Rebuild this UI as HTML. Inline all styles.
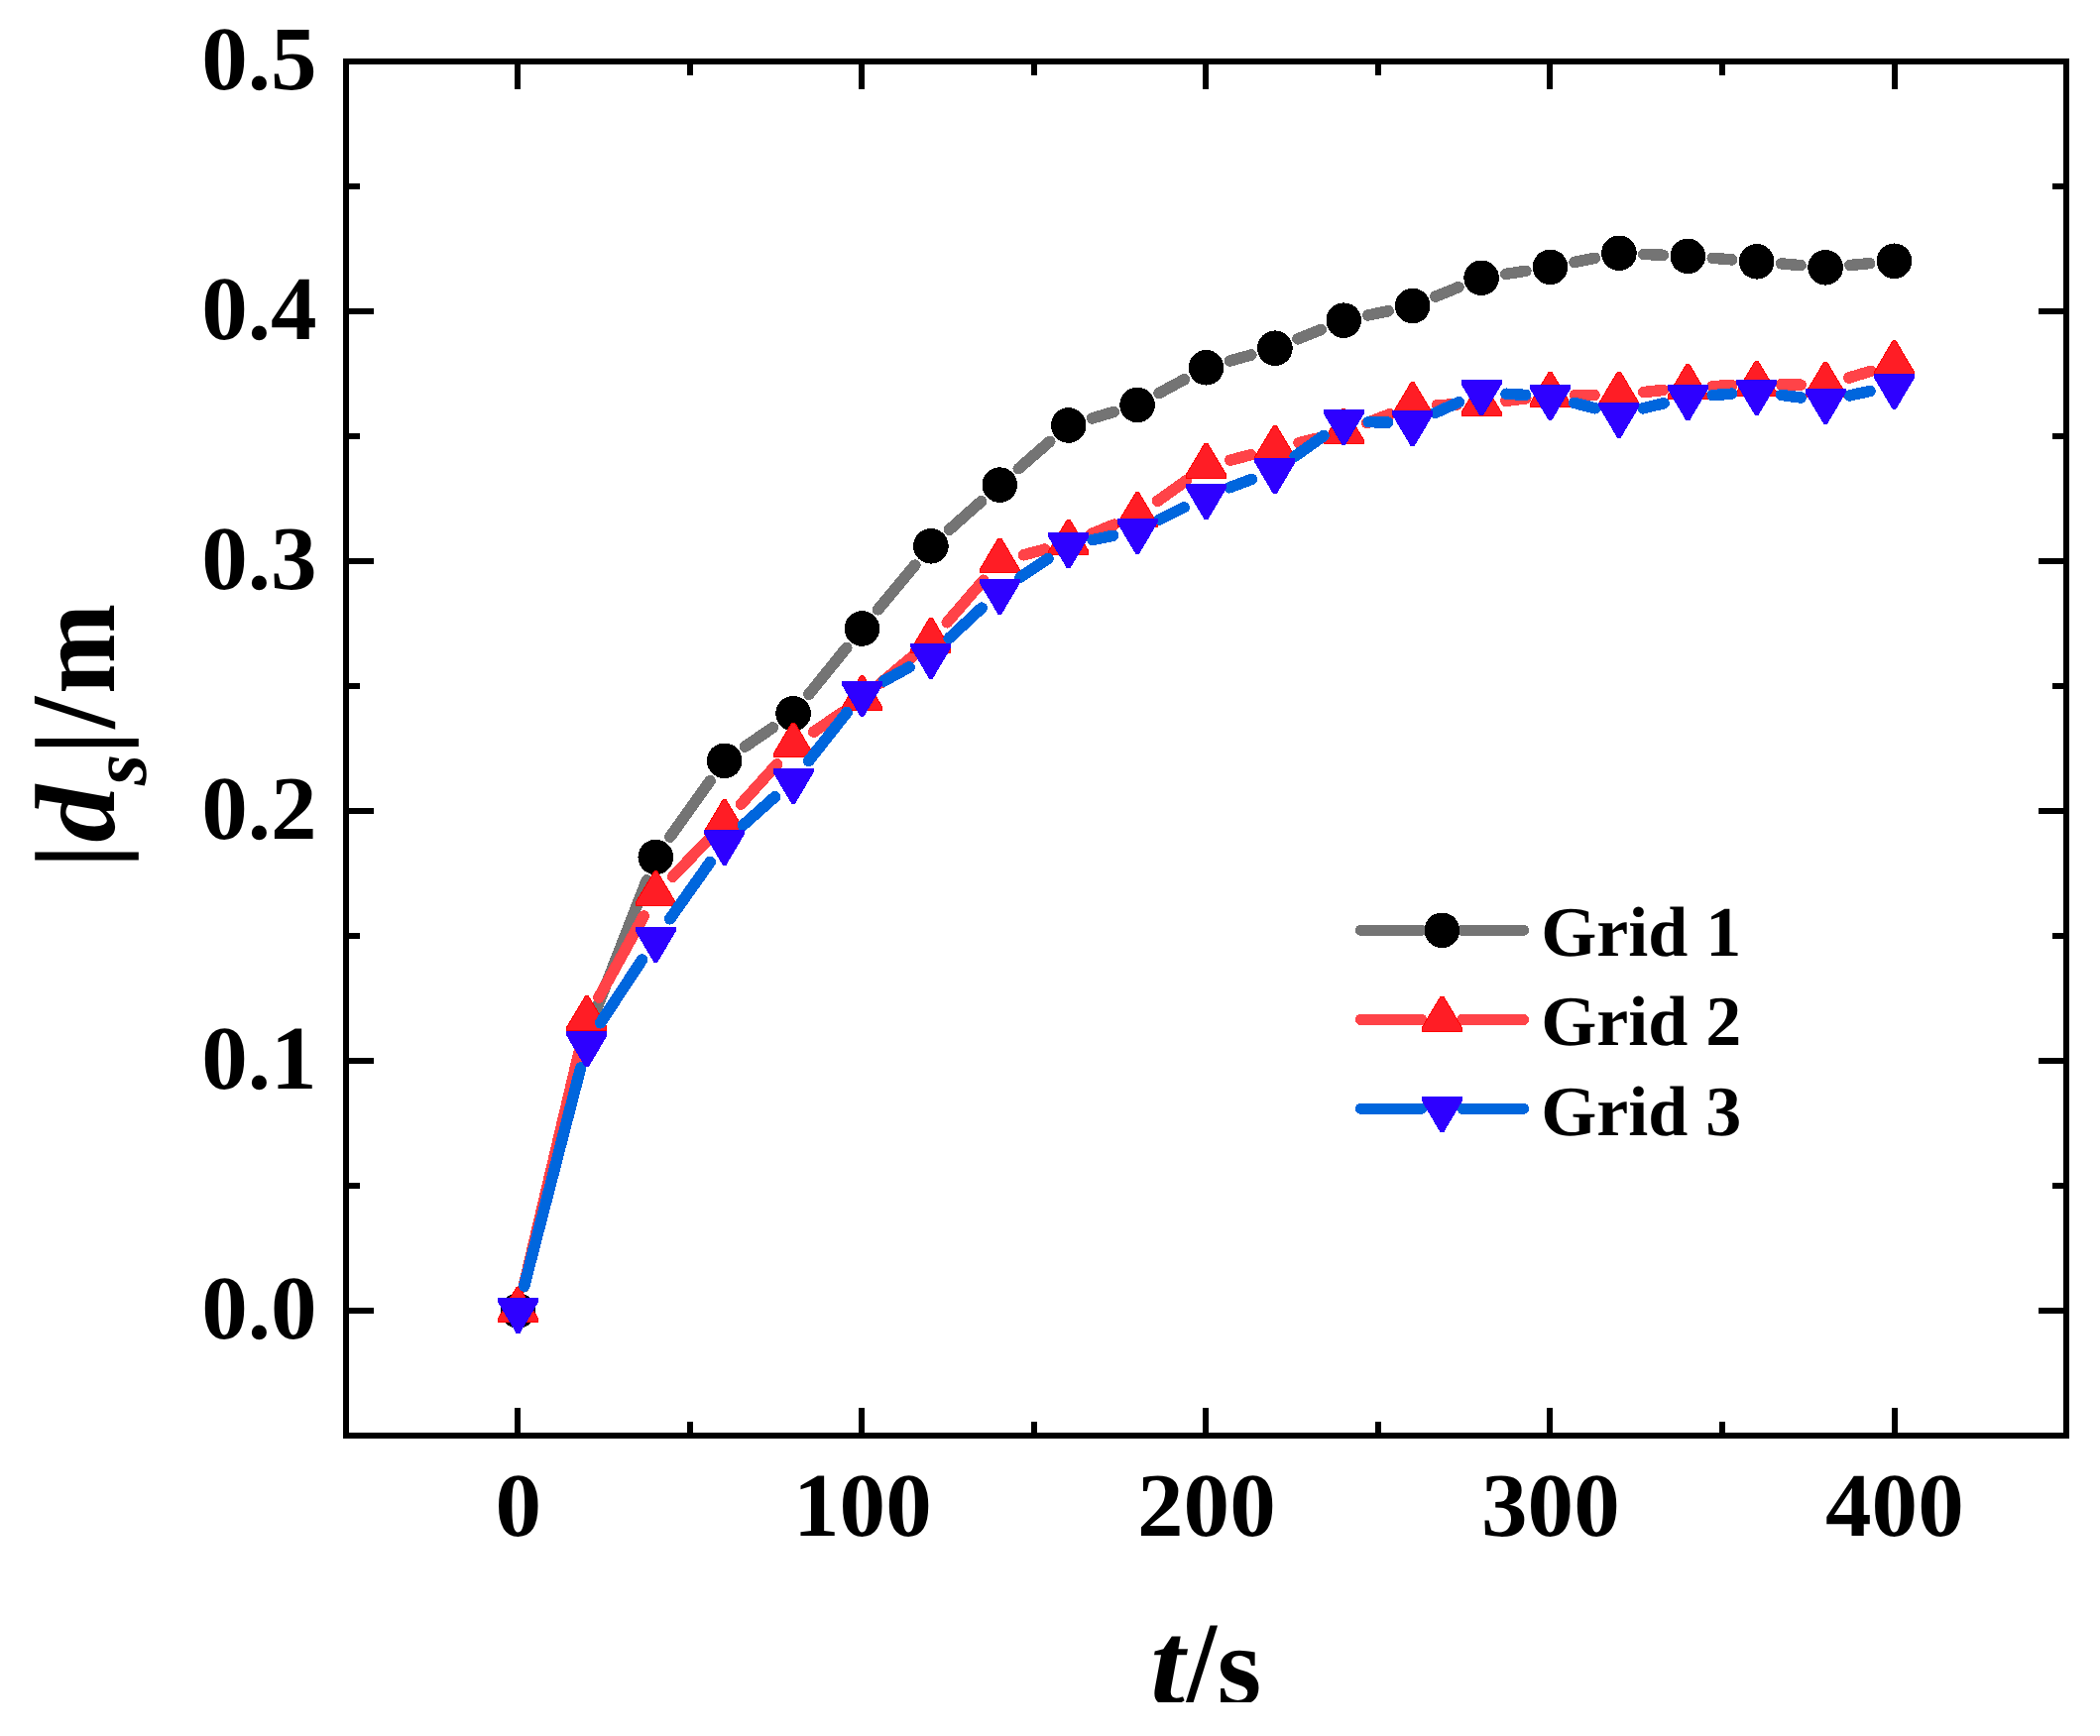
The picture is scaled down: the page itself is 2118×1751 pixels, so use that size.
<!DOCTYPE html>
<html><head><meta charset="utf-8"><title>Grid convergence</title>
<style>html,body{margin:0;padding:0;background:#fff}svg{display:block}</style></head>
<body>
<svg width="2118" height="1751" viewBox="0 0 2118 1751" shape-rendering="crispEdges">
<rect width="2118" height="1751" fill="#fff"/>
<g shape-rendering="crispEdges">
<path d="M528.5 1297.8L585.9 1067.2M600.9 1019.7L652.3 887.8M675.8 844.2L716.2 787.6M751.3 753.2L779.5 733.8M815.8 700.3L853.8 653.4M885.5 614.8L922.9 570.0M957.5 534.2L989.7 505.7M1027.2 472.8L1058.8 445.3M1101.6 421.9L1123.2 415.5M1169.0 396.5L1194.6 382.7M1240.5 364.0L1261.9 358.0M1309.0 341.9L1332.2 332.5M1379.7 318.0L1400.3 313.7M1447.8 299.1L1471.0 289.7M1518.7 276.4L1538.9 273.3M1588.0 264.4L1608.4 260.3M1657.8 256.4L1677.4 257.3M1727.2 260.3L1746.8 261.9M1796.6 265.9L1816.2 267.7M1865.9 267.5L1885.7 265.6" stroke="#747474" stroke-width="11.5" stroke-linecap="round" fill="none"/>
<g fill="#000"><circle cx="522.5" cy="1322.0" r="17.8"/><circle cx="591.9" cy="1043.0" r="17.8"/><circle cx="661.3" cy="864.5" r="17.8"/><circle cx="730.7" cy="767.3" r="17.8"/><circle cx="800.1" cy="719.7" r="17.8"/><circle cx="869.5" cy="634.0" r="17.8"/><circle cx="938.9" cy="550.8" r="17.8"/><circle cx="1008.3" cy="489.1" r="17.8"/><circle cx="1077.7" cy="429.0" r="17.8"/><circle cx="1147.1" cy="408.4" r="17.8"/><circle cx="1216.5" cy="370.8" r="17.8"/><circle cx="1285.9" cy="351.2" r="17.8"/><circle cx="1355.3" cy="323.2" r="17.8"/><circle cx="1424.7" cy="308.5" r="17.8"/><circle cx="1494.1" cy="280.3" r="17.8"/><circle cx="1563.5" cy="269.4" r="17.8"/><circle cx="1632.9" cy="255.3" r="17.8"/><circle cx="1702.3" cy="258.4" r="17.8"/><circle cx="1771.7" cy="263.8" r="17.8"/><circle cx="1841.1" cy="269.8" r="17.8"/><circle cx="1910.5" cy="263.3" r="17.8"/></g>
<path d="M528.2 1297.4L586.2 1052.1M604.0 1006.0L649.2 924.0M678.6 884.2L713.4 847.8M747.3 811.2L783.5 770.9M820.7 738.2L848.9 718.9M888.6 688.8L919.8 662.7M955.2 627.8L992.0 585.2M1032.4 559.8L1053.6 554.1M1100.9 538.4L1123.9 529.1M1167.4 505.4L1196.2 484.9M1240.7 464.2L1261.7 458.7M1310.1 446.6L1331.1 441.6M1378.6 426.7L1401.4 417.8M1449.6 408.4L1469.2 408.1M1518.8 404.4L1538.8 401.8M1588.4 398.4L1608.0 398.4M1657.7 395.6L1677.5 393.4M1727.2 389.6L1746.8 388.6M1796.6 387.8L1816.2 388.1M1864.9 381.0L1886.7 374.4" stroke="#ff4348" stroke-width="11.5" stroke-linecap="round" fill="none"/>
<path fill="#ff1d25" stroke="#ff0000" stroke-width="1" d="M502.5 1333.3v-3.6L521.1 1298.4h2.8L542.5 1329.7v3.6zM571.9 1039.4v-3.6L590.5 1004.5h2.8L611.9 1035.8v3.6zM641.3 913.8v-3.6L659.9 878.9h2.8L681.3 910.2v3.6zM710.7 841.4v-3.6L729.3 806.5h2.8L750.7 837.8v3.6zM780.1 763.9v-3.6L798.7 729.0h2.8L820.1 760.3v3.6zM849.5 716.4v-3.6L868.1 681.5h2.8L889.5 712.8v3.6zM918.9 658.3v-3.6L937.5 623.4h2.8L958.9 654.7v3.6zM988.3 577.9v-3.6L1006.9 543.0h2.8L1028.3 574.3v3.6zM1057.7 559.2v-3.6L1076.3 524.3h2.8L1097.7 555.6v3.6zM1127.1 531.5v-3.6L1145.7 496.6h2.8L1167.1 527.9v3.6zM1196.5 482.0v-3.6L1215.1 447.1h2.8L1236.5 478.4v3.6zM1265.9 464.1v-3.6L1284.5 429.2h2.8L1305.9 460.5v3.6zM1335.3 447.3v-3.6L1353.9 412.4h2.8L1375.3 443.7v3.6zM1404.7 420.4v-3.6L1423.3 385.5h2.8L1444.7 416.8v3.6zM1474.1 419.3v-3.6L1492.7 384.4h2.8L1514.1 415.7v3.6zM1543.5 410.1v-3.6L1562.1 375.2h2.8L1583.5 406.5v3.6zM1612.9 409.9v-3.6L1631.5 375.0h2.8L1652.9 406.3v3.6zM1682.3 402.3v-3.6L1700.9 367.4h2.8L1722.3 398.7v3.6zM1751.7 399.1v-3.6L1770.3 364.2h2.8L1791.7 395.5v3.6zM1821.1 400.0v-3.6L1839.7 365.1h2.8L1861.1 396.4v3.6zM1890.5 378.6v-3.6L1909.1 343.7h2.8L1930.5 375.0v3.6z"/>
<path d="M528.7 1297.1L585.7 1076.8M605.6 1031.8L647.6 968.0M675.7 926.8L716.3 869.4M749.3 832.4L781.5 803.8M815.5 767.6L854.1 718.6M891.4 687.0L917.0 673.0M957.1 643.9L990.1 613.1M1029.0 582.1L1057.0 563.5M1102.1 544.5L1122.7 540.3M1169.4 524.0L1194.2 511.7M1239.9 491.8L1262.5 483.3M1306.2 460.1L1335.0 439.6M1380.2 425.6L1399.8 426.1M1447.5 416.4L1471.3 405.7M1519.0 397.2L1538.6 398.4M1587.7 406.3L1608.7 411.8M1657.1 411.9L1678.1 406.7M1727.2 398.7L1746.8 397.1M1796.4 398.4L1816.4 401.0M1865.5 398.9L1886.1 394.4" stroke="#0066dd" stroke-width="11.5" stroke-linecap="round" fill="none"/>
<path fill="#2e00ff" stroke="#2a00ff" stroke-width="1" d="M502.5 1309.5v3.6L521.1 1344.6h2.8L542.5 1313.1v-3.6zM571.9 1040.8v3.6L590.5 1075.9h2.8L611.9 1044.4v-3.6zM641.3 935.4v3.6L659.9 970.5h2.8L681.3 939.0v-3.6zM710.7 837.2v3.6L729.3 872.3h2.8L750.7 840.8v-3.6zM780.1 775.4v3.6L798.7 810.5h2.8L820.1 779.0v-3.6zM849.5 687.2v3.6L868.1 722.3h2.8L889.5 690.8v-3.6zM918.9 649.2v3.6L937.5 684.3h2.8L958.9 652.8v-3.6zM988.3 584.2v3.6L1006.9 619.3h2.8L1028.3 587.8v-3.6zM1057.7 537.8v3.6L1076.3 572.9h2.8L1097.7 541.4v-3.6zM1127.1 523.4v3.6L1145.7 558.5h2.8L1167.1 527.0v-3.6zM1196.5 488.7v3.6L1215.1 523.8h2.8L1236.5 492.3v-3.6zM1265.9 462.8v3.6L1284.5 497.9h2.8L1305.9 466.4v-3.6zM1335.3 413.3v3.6L1353.9 448.4h2.8L1375.3 416.9v-3.6zM1404.7 414.8v3.6L1423.3 449.9h2.8L1444.7 418.4v-3.6zM1474.1 383.7v3.6L1492.7 418.8h2.8L1514.1 387.3v-3.6zM1543.5 388.3v3.6L1562.1 423.4h2.8L1583.5 391.9v-3.6zM1612.9 406.2v3.6L1631.5 441.3h2.8L1652.9 409.8v-3.6zM1682.3 388.8v3.6L1700.9 423.9h2.8L1722.3 392.4v-3.6zM1751.7 383.4v3.6L1770.3 418.5h2.8L1791.7 387.0v-3.6zM1821.1 392.4v3.6L1839.7 427.5h2.8L1861.1 396.0v-3.6zM1890.5 377.3v3.6L1909.1 412.4h2.8L1930.5 380.9v-3.6z"/>
<path d="M1372.3 938.3H1433.9M1474.9 938.3H1536.6" stroke="#747474" stroke-width="11" stroke-linecap="round"/>
<path d="M1372.3 1028.4H1433.9M1474.9 1028.4H1536.6" stroke="#ff4348" stroke-width="11" stroke-linecap="round"/>
<path d="M1372.3 1118.3H1433.9M1474.9 1118.3H1536.6" stroke="#0066dd" stroke-width="11" stroke-linecap="round"/>
<g fill="#000"><circle cx="1454.4" cy="938.3" r="17.8"/></g>
<path fill="#ff1d25" stroke="#ff0000" stroke-width="1" d="M1434.4 1040.0v-3.6L1453.0 1005.1h2.8L1474.4 1036.4v3.6z"/>
<path fill="#2e00ff" stroke="#2a00ff" stroke-width="1" d="M1434.4 1106.7v3.6L1453.0 1141.8h2.8L1474.4 1110.3v-3.6z"/>
</g>
<rect x="349" y="62" width="1735" height="1386" fill="none" stroke="#000" stroke-width="6"/>
<path d="M519 1445h6v-25h-6zM519 65h6v25h-6zM693 1445h6v-11h-6zM693 65h6v11h-6zM866 1445h6v-25h-6zM866 65h6v25h-6zM1040 1445h6v-11h-6zM1040 65h6v11h-6zM1213 1445h6v-25h-6zM1213 65h6v25h-6zM1387 1445h6v-11h-6zM1387 65h6v11h-6zM1560 1445h6v-25h-6zM1560 65h6v25h-6zM1734 1445h6v-11h-6zM1734 65h6v11h-6zM1908 1445h6v-25h-6zM1908 65h6v25h-6zM352 1319h25v6h-25zM2081 1319h-25v6h25zM352 1193h11v6h-11zM2081 1193h-11v6h11zM352 1067h25v6h-25zM2081 1067h-25v6h25zM352 941h11v6h-11zM2081 941h-11v6h11zM352 815h25v6h-25zM2081 815h-25v6h25zM352 689h11v6h-11zM2081 689h-11v6h11zM352 563h25v6h-25zM2081 563h-25v6h25zM352 437h11v6h-11zM2081 437h-11v6h11zM352 311h25v6h-25zM2081 311h-25v6h25zM352 185h11v6h-11zM2081 185h-11v6h11z" fill="#000"/>
<g font-family="'Liberation Serif', 'Times New Roman', serif" font-weight="bold" fill="#000" text-rendering="geometricPrecision">
<text transform="translate(203.2,1350.0) scale(1.018,1)" font-size="91.5" text-anchor="start">0.0</text>
<text transform="translate(203.2,1098.0) scale(1.018,1)" font-size="91.5" text-anchor="start">0.1</text>
<text transform="translate(203.2,846.0) scale(1.018,1)" font-size="91.5" text-anchor="start">0.2</text>
<text transform="translate(203.2,594.0) scale(1.018,1)" font-size="91.5" text-anchor="start">0.3</text>
<text transform="translate(203.2,342.0) scale(1.018,1)" font-size="91.5" text-anchor="start">0.4</text>
<text transform="translate(203.2,90.0) scale(1.018,1)" font-size="91.5" text-anchor="start">0.5</text>
<text transform="translate(522.9,1549.0) scale(1.018,1)" font-size="91.5" text-anchor="middle">0</text>
<text transform="translate(869.9,1549.0) scale(1.018,1)" font-size="91.5" text-anchor="middle">100</text>
<text transform="translate(1216.9,1549.0) scale(1.018,1)" font-size="91.5" text-anchor="middle">200</text>
<text transform="translate(1563.9,1549.0) scale(1.018,1)" font-size="91.5" text-anchor="middle">300</text>
<text transform="translate(1910.9,1549.0) scale(1.018,1)" font-size="91.5" text-anchor="middle">400</text>
<text transform="translate(1554.2,963.9) scale(1.008,1)" font-size="71.5" text-anchor="start">Grid 1</text>
<text transform="translate(1554.2,1054.0) scale(1.008,1)" font-size="71.5" text-anchor="start">Grid 2</text>
<text transform="translate(1554.2,1144.6) scale(1.008,1)" font-size="71.5" text-anchor="start">Grid 3</text>
<svg x="1100" y="1600" width="300" height="117" overflow="hidden" font-size="115"><text transform="translate(60.2,118.5) scale(1.085,1.058)" font-style="italic">t</text><text transform="translate(95.9,118.5) scale(0.97,1.05)">/</text><text transform="translate(127.5,118.5)">s</text></svg>
<g transform="translate(115.1,876.3) rotate(-90)" font-size="115"><text>|<tspan font-style="italic" dx="1.5">d</tspan><tspan font-style="italic" font-size="80" dy="32.3">s</tspan><tspan dy="-32.3" dx="-1">|</tspan></text><text transform="translate(141.5,0) scale(1,1.058)">/</text><text transform="translate(176.3,0) scale(0.95,1)">m</text></g>
</g>
</svg>
</body></html>
